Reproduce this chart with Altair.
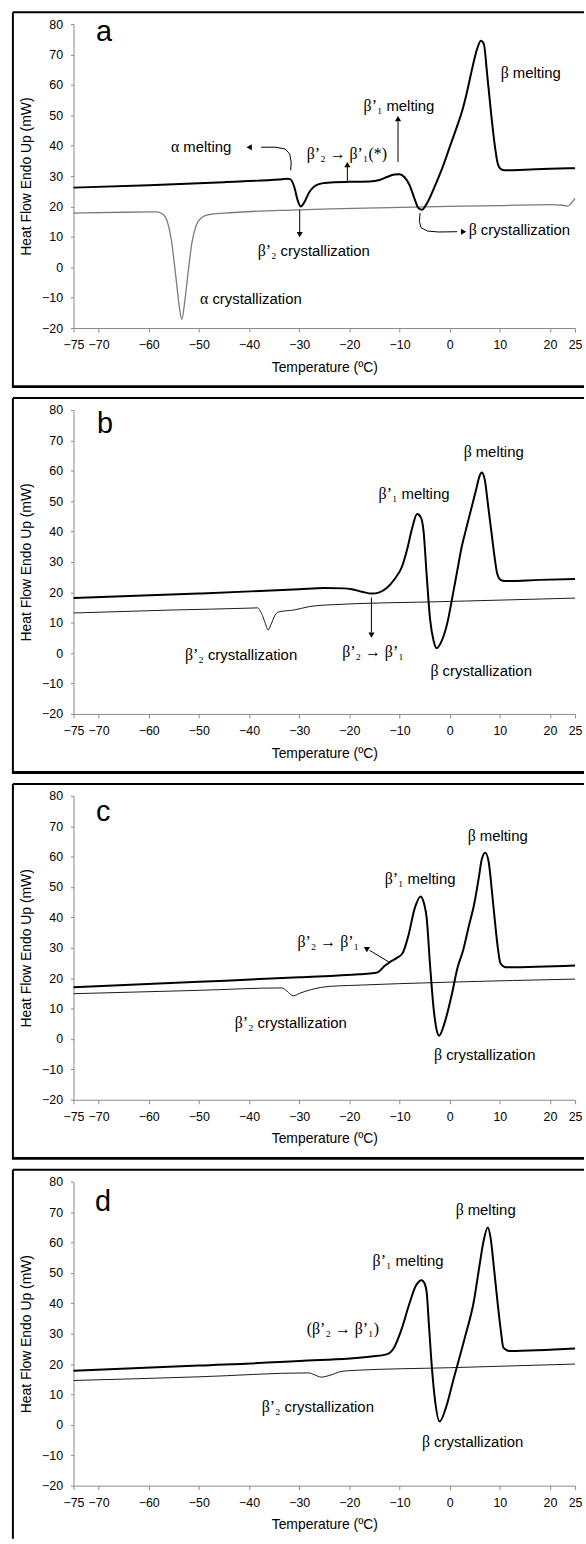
import altair as alt
import pandas as pd

X_TICKS = [-75, -70, -60, -50, -40, -30, -20, -10, 0, 10, 20, 25]
Y_TICKS = [-20, -10, 0, 10, 20, 30, 40, 50, 60, 70, 80]
X_TITLE = "Temperature (ºC)"
Y_TITLE = "Heat Flow Endo Up (mW)"

# ---------------- panel a ----------------
a_heat_T = [-75, -60, -45, -34, -32.5, -31.8, -31, -30.3, -29.7, -29, -28, -27, -25.5, -23, -20, -16, -14,
            -12.5, -11, -10, -9, -8, -7, -6.2, -5.5, -4.8, -3, -1.5, 0, 1.5, 2.5, 3.5, 4.5, 5.5, 6.2, 6.8,
            7.5, 8.3, 9, 9.6, 10.2, 11, 15, 20, 25]
a_heat_Q = [26.2, 27.0, 28.0, 28.9, 29.1, 29.0, 26.5, 22.0, 20.0, 21.3, 24.7, 26.6, 27.6, 28.0, 28.1, 28.2, 28.7,
            29.7, 30.5, 30.6, 29.6, 27.0, 22.5, 19.4, 18.9, 20.3, 26.5, 32.5, 39.5, 46.5, 51.5, 58.0, 65.5, 72.0, 74.5, 73.5,
            63.0, 50.0, 40.0, 34.0, 32.3, 31.9, 32.1, 32.4, 32.6]
a_cool_T = [-75, -65, -58.5, -57.3, -56.3, -55.5, -54.6, -53.9, -53.4, -52.8, -52.1, -51.4, -50.6, -49.5, -48,
            -45, -30, -10, 10, 20, 22.5, 23.5, 24.2, 25]
a_cool_Q = [17.8, 18.1, 18.2, 17.6, 15.0, 9.0, -3.0, -13.0, -17.2, -11.0, -1.0, 8.0, 13.5, 16.3, 17.3,
            17.8, 18.9, 19.7, 20.3, 20.6, 20.4, 20.1, 21.0, 22.7]
a_lab_greek = ["α", "β", "β’₁", "β’₂", "β", "α"]
a_lab_rest = ["melting", "melting", "melting", "crystallization", "crystallization", "crystallization"]
a_lab_T = [-53.9, 11.8, -13.4, -34.5, 5.4, -48.1]
a_lab_Q = [39.5, 63.8, 53.0, 5.4, 12.4, -10.3]
a_mid_text = ["β’₂ → β’₁(*)"]
a_mid_T = [-20.5]
a_mid_Q = [37.3]
a_arrow_id = [1, 1, 1, 1, 1, 1, 2, 2, 3, 3, 4, 4, 5, 5, 5, 5, 5, 5]
a_arrow_T = [-31.7, -31.6, -31.9, -32.8, -34.7, -37.6, -20.4, -20.4, -10.3, -10.3, -29.9, -29.9,
             -5.9, -6.05, -5.7, -4.4, -2.2, 1.5]
a_arrow_Q = [31.9, 34.6, 37.3, 38.9, 39.5, 39.5, 28.4, 33.0, 34.6, 48.0, 18.9, 11.5,
             17.8, 15.1, 13.0, 11.9, 11.6, 11.7]
a_head_T = [-39.8, -20.4, -10.3, -29.9, 2.6]
a_head_Q = [39.5, 33.5, 48.6, 11.0, 11.7]
a_head_angle = [270, 0, 0, 180, 90]

# ---------------- panel b ----------------
b_heat_T = [-75, -50, -30, -25, -21, -19.5, -17.5, -15.5, -14, -12.5, -11, -9.5, -8.5, -7.5, -6.5, -5.7,
            -5.2, -4.6, -3.9, -3.2, -2.6, -1.8, -0.5, 0.6, 1.5, 2.4, 3.3, 4.3, 5.3, 5.9, 6.4, 7.0, 7.7,
            8.4, 9.0, 9.5, 10.2, 11, 18, 25]
b_heat_Q = [18.1, 19.6, 21.0, 21.4, 21.3, 21.0, 20.2, 19.6, 20.0, 21.5, 24.3, 28.5, 34.0, 41.0, 45.8, 44.5,
            40.0, 26.0, 11.0, 4.0, 1.6, 3.3, 9.7, 19.0, 27.0, 35.0, 41.0, 47.5, 54.0, 58.0, 59.4, 57.0, 48.0,
            38.8, 31.0, 26.0, 24.0, 23.7, 24.1, 24.4]
b_cool_T = [-75, -55, -40, -38.3, -37.5, -36.8, -36.2, -35.6, -34.8, -34, -31, -28, -25, 0, 25]
b_cool_Q = [13.2, 14.2, 14.8, 14.9, 13.0, 10.0, 7.6, 9.5, 12.5, 13.6, 14.2, 15.3, 15.8, 17.0, 18.1]
b_lab_greek = ["β", "β’₁", "β’₂", "β"]
b_lab_rest = ["melting", "melting", "crystallization", "crystallization"]
b_lab_T = [4.4, -10.4, -49.0, -2.2]
b_lab_Q = [66.3, 52.3, -0.5, -5.9]
b_mid_text = ["β’₂ → β’₁"]
b_mid_T = [-15.3]
b_mid_Q = [0.5]
b_arrow_id = [1, 1]
b_arrow_T = [-15.6, -15.6]
b_arrow_Q = [18.3, 6.8]
b_head_T = [-15.6]
b_head_Q = [6.2]
b_head_angle = [180]

# ---------------- panel c ----------------
c_heat_T = [-75, -50, -30, -18, -15, -14.2, -13, -12, -10.6, -9.4, -8.3, -6.9, -5.8, -5.1, -4.6, -3.9,
            -3.2, -2.6, -2.1, -1, 0.5, 1.5, 2.7, 3.8, 4.9, 5.8, 6.4, 7.1, 7.8, 8.4, 9, 9.6, 10.1, 11.2, 25]
c_heat_Q = [17.0, 18.8, 20.3, 21.3, 21.7, 22.1, 24.0, 25.2, 26.6, 28.2, 33.6, 43.4, 46.9, 44.5, 40.0, 24.0,
            10.0, 3.0, 1.1, 5.4, 15.2, 23.0, 29.3, 37.0, 44.5, 53.0, 59.1, 61.3, 58.0, 49.0, 39.0, 30.0, 25.0, 23.6, 24.2]
c_cool_T = [-75, -50, -33.5, -32.4, -31.2, -29.8, -27.5, -24, -20, 0, 25]
c_cool_Q = [14.9, 16.0, 16.8, 15.7, 14.2, 15.1, 16.3, 17.3, 17.6, 18.7, 19.7]
c_lab_greek = ["β", "β’₁", "β’₂", "β"]
c_lab_rest = ["melting", "melting", "crystallization", "crystallization"]
c_lab_T = [5.2, -9.2, -39.1, -1.5]
c_lab_Q = [66.7, 52.6, 5.4, -5.4]
c_mid_text = ["β’₂ → β’₁"]
c_mid_T = [-24.2]
c_mid_Q = [32.0]
c_arrow_id = [1, 1]
c_arrow_T = [-12.0, -16.0]
c_arrow_Q = [25.2, 29.2]
c_head_T = [-16.5]
c_head_Q = [29.7]
c_head_angle = [301]

# ---------------- panel d ----------------
d_heat_T = [-75, -50, -30, -15.6, -12.6, -11.1, -9.6, -8.1, -6.7, -5.6, -5.0, -4.6, -4.1, -3.7, -3.0, -2.0,
            -0.7, 0.7, 3.0, 4.8, 6.0, 6.7, 7.6, 8.2, 8.8, 9.6, 10.2, 10.7, 11.9, 25]
d_heat_Q = [17.8, 19.5, 21.0, 22.5, 23.2, 25.4, 31.4, 39.5, 45.9, 47.6, 46.5, 43.8, 32.0, 22.2, 9.2, 1.1,
            5.9, 14.6, 28.6, 40.5, 53.0, 60.0, 64.9, 61.0, 52.0, 39.5, 31.0, 25.4, 24.3, 25.1]
d_cool_T = [-75, -50, -28.1, -27, -25.6, -24.1, -21.5, -19.3, 0, 25]
d_cool_Q = [14.6, 15.8, 17.1, 16.5, 15.7, 16.2, 17.6, 17.9, 18.8, 20.0]
d_lab_greek = ["β", "β’₁", "β’₂", "β"]
d_lab_rest = ["melting", "melting", "crystallization", "crystallization"]
d_lab_T = [2.8, -11.6, -33.7, -3.9]
d_lab_Q = [70.8, 54.0, 5.7, -5.7]
d_mid_text = ["(β’₂ → β’₁)"]
d_mid_T = [-21.3]
d_mid_Q = [31.4]

LETTERS = ["a", "b", "c", "d"]
LETTER_T = [-70.5, -70.3, -70.5, -70.7]
LETTER_Q = [74.6, 72.3, 71.8, 70.3]

SANS = "Liberation Sans"
SERIF = "Liberation Serif"

X_SCALE = alt.Scale(domain=[-75, 25], nice=False, zero=False)
Y_SCALE = alt.Scale(domain=[-20, 80], nice=False, zero=False)
X_AXIS = alt.Axis(values=X_TICKS, title=X_TITLE, tickSize=4, labelPadding=7,
                  titlePadding=9, labelFlush=False, labelOverlap=False)
Y_AXIS = alt.Axis(values=Y_TICKS, title=Y_TITLE, tickSize=3, labelPadding=8,
                  titlePadding=8, labelFlush=False)


def xenc():
    return alt.X("T:Q", scale=X_SCALE, axis=X_AXIS)


def yenc():
    return alt.Y("Q:Q", scale=Y_SCALE, axis=Y_AXIS)


def panel(idx, heat_T, heat_Q, cool_T, cool_Q, cool_color, cool_width,
          lab_greek, lab_rest, lab_T, lab_Q, mid_text, mid_T, mid_Q,
          arrow_id=None, arrow_T=None, arrow_Q=None, head_T=None, head_Q=None, head_angle=None,
          bottom_border=True):
    heat = pd.DataFrame({"T": heat_T, "Q": heat_Q})
    cool = pd.DataFrame({"T": cool_T, "Q": cool_Q})
    labs = pd.DataFrame({"T": lab_T, "Q": lab_Q, "g": lab_greek, "r": lab_rest})
    mids = pd.DataFrame({"T": mid_T, "Q": mid_Q, "t": mid_text})
    letter = pd.DataFrame({"T": [LETTER_T[idx]], "Q": [LETTER_Q[idx]], "t": [LETTERS[idx]]})
    one = pd.DataFrame({"k": [0]})

    layers = [
        alt.Chart(cool).mark_line(color=cool_color, strokeWidth=cool_width, interpolate="monotone")
        .encode(x=xenc(), y=yenc()),
        alt.Chart(heat).mark_line(color="black", strokeWidth=2, interpolate="monotone")
        .encode(x=xenc(), y=yenc()),
        alt.Chart(labs).mark_text(font=SERIF, fontSize=16, align="right", baseline="middle", color="black")
        .encode(x=xenc(), y=yenc(), text="g:N"),
        alt.Chart(labs).mark_text(font=SANS, fontSize=15, align="left", baseline="middle", dx=4, color="black")
        .encode(x=xenc(), y=yenc(), text="r:N"),
        alt.Chart(mids).mark_text(font=SERIF, fontSize=16, align="center", baseline="middle", color="black")
        .encode(x=xenc(), y=yenc(), text="t:N"),
        alt.Chart(letter).mark_text(font=SANS, fontSize=29, align="left", baseline="alphabetic", color="black")
        .encode(x=xenc(), y=yenc(), text="t:N"),
    ]
    if arrow_id is not None:
        arr = pd.DataFrame({"id": arrow_id, "T": arrow_T, "Q": arrow_Q, "o": list(range(len(arrow_id)))})
        heads = pd.DataFrame({"T": head_T, "Q": head_Q, "a": head_angle})
        layers.append(
            alt.Chart(arr).mark_line(color="black", strokeWidth=1)
            .encode(x=xenc(), y=yenc(), detail="id:N", order="o:Q"))
        layers.append(
            alt.Chart(heads).mark_point(shape="triangle", filled=True, color="black", size=38, opacity=1)
            .encode(x=xenc(), y=yenc(), angle=alt.Angle("a:Q", scale=None)))

    # panel frame (top, left, bottom)
    layers.append(alt.Chart(one).mark_rule(color="black", strokeWidth=2)
                  .encode(x=alt.value(-61), x2=alt.value(514), y=alt.value(-12)))
    layers.append(alt.Chart(one).mark_rule(color="black", strokeWidth=2)
                  .encode(x=alt.value(-61), y=alt.value(-12),
                          y2=alt.value(365 if bottom_border else 359.5)))
    if bottom_border:
        layers.append(alt.Chart(one).mark_rule(color="black", strokeWidth=3)
                      .encode(x=alt.value(-62), x2=alt.value(514), y=alt.value(365)))

    return alt.layer(*layers).properties(width=505, height=306)


pa = panel(0, a_heat_T, a_heat_Q, a_cool_T, a_cool_Q, "#7a7a7a", 1.3,
           a_lab_greek, a_lab_rest, a_lab_T, a_lab_Q, a_mid_text, a_mid_T, a_mid_Q,
           a_arrow_id, a_arrow_T, a_arrow_Q, a_head_T, a_head_Q, a_head_angle)
pb = panel(1, b_heat_T, b_heat_Q, b_cool_T, b_cool_Q, "#1a1a1a", 1.0,
           b_lab_greek, b_lab_rest, b_lab_T, b_lab_Q, b_mid_text, b_mid_T, b_mid_Q,
           b_arrow_id, b_arrow_T, b_arrow_Q, b_head_T, b_head_Q, b_head_angle)
pc = panel(2, c_heat_T, c_heat_Q, c_cool_T, c_cool_Q, "#1a1a1a", 1.0,
           c_lab_greek, c_lab_rest, c_lab_T, c_lab_Q, c_mid_text, c_mid_T, c_mid_Q,
           c_arrow_id, c_arrow_T, c_arrow_Q, c_head_T, c_head_Q, c_head_angle)
pd_ = panel(3, d_heat_T, d_heat_Q, d_cool_T, d_cool_Q, "#1a1a1a", 1.0,
            d_lab_greek, d_lab_rest, d_lab_T, d_lab_Q, d_mid_text, d_mid_T, d_mid_Q,
            bottom_border=False)

chart = (
    alt.vconcat(pa, pb, pc, pd_, spacing=82.5, bounds="flush")
    .properties(padding={"left": 10, "top": 6, "right": 0, "bottom": 0}, background="white")
    .configure_view(stroke=None)
    .configure_axis(
        grid=False,
        domainColor="#8a8a8a",
        tickColor="#8a8a8a",
        labelFont=SANS,
        labelFontSize=12.5,
        labelColor="black",
        titleFont=SANS,
        titleFontSize=14,
        titleFontWeight="normal",
        titleColor="black",
    )
)

chart.save("out.html", embed_options={"renderer": "svg", "actions": False})
